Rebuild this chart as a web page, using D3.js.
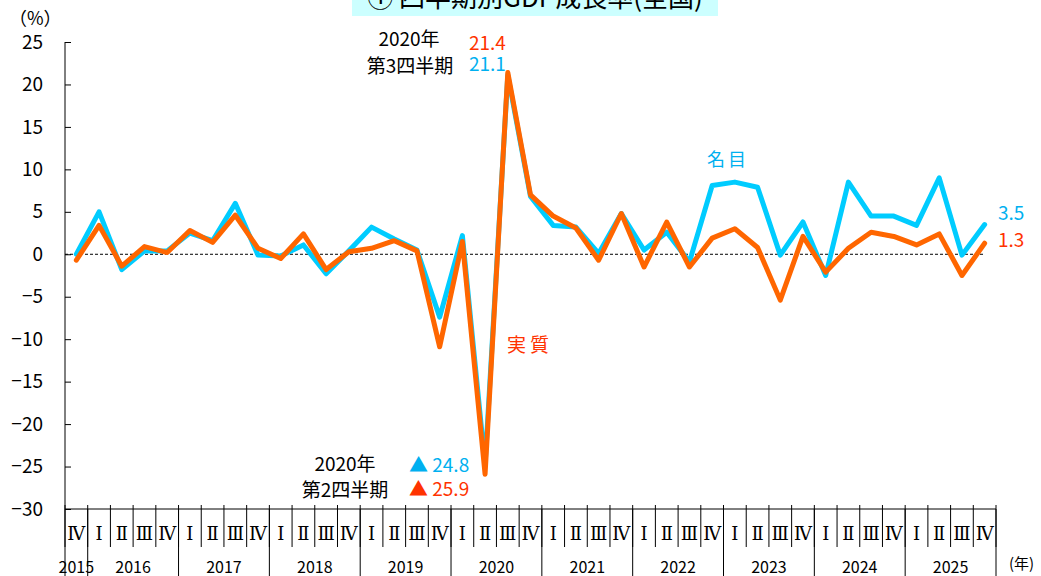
<!DOCTYPE html>
<html lang="ja">
<head>
<meta charset="utf-8">
<script src="https://cdn.jsdelivr.net/npm/d3@7"></script>
<style>
  body { margin: 0; background: #fff; }
  svg { display: block; font-family: 'Noto Sans CJK JP', 'Noto Sans', sans-serif; }
</style>
</head>
<body>
<svg id="chart" width="1041" height="576"></svg>
<script>
// 四半期ラベル（2015年IV期〜2025年IV期）
const quarterLabels = [
  'Ⅳ',
  'Ⅰ', 'Ⅱ', 'Ⅲ', 'Ⅳ', 'Ⅰ', 'Ⅱ', 'Ⅲ', 'Ⅳ', 'Ⅰ', 'Ⅱ', 'Ⅲ', 'Ⅳ',
  'Ⅰ', 'Ⅱ', 'Ⅲ', 'Ⅳ', 'Ⅰ', 'Ⅱ', 'Ⅲ', 'Ⅳ', 'Ⅰ', 'Ⅱ', 'Ⅲ', 'Ⅳ',
  'Ⅰ', 'Ⅱ', 'Ⅲ', 'Ⅳ', 'Ⅰ', 'Ⅱ', 'Ⅲ', 'Ⅳ', 'Ⅰ', 'Ⅱ', 'Ⅲ', 'Ⅳ',
  'Ⅰ', 'Ⅱ', 'Ⅲ', 'Ⅳ'
];
const yearLabels = ['2015', '2016', '2017', '2018', '2019', '2020', '2021', '2022', '2023', '2024', '2025'];

// 名目・実質GDP成長率（前期比年率, %）
const nominal = [
  0.0, 5.0, -1.8, 0.4, 0.4, 2.5, 1.6, 6.0, -0.1, -0.2,
  1.1, -2.3, 0.4, 3.2, 1.8, 0.5, -7.4, 2.2, -24.8, 21.1,
  6.8, 3.4, 3.2, 0.1, 4.8, 0.5, 2.6, -0.9, 8.1, 8.5,
  7.9, -0.1, 3.8, -2.5, 8.5, 4.5, 4.5, 3.4, 9.0, -0.1,
  3.5
];
const real = [
  -0.7, 3.4, -1.4, 0.9, 0.2, 2.8, 1.4, 4.6, 0.7, -0.5,
  2.4, -1.8, 0.3, 0.7, 1.6, 0.4, -10.9, 1.5, -25.9, 21.4,
  7.0, 4.5, 3.1, -0.7, 4.8, -1.5, 3.8, -1.5, 1.9, 3.0,
  0.8, -5.4, 2.1, -2.1, 0.7, 2.6, 2.1, 1.1, 2.4, -2.5,
  1.3
];
const yTicks = [25, 20, 15, 10, 5, 0, -5, -10, -15, -20, -25, -30];

const COLOR_NOMINAL = '#00CCFF';
const COLOR_REAL = '#FF6600';
const TEXT_NOMINAL = '#00B0F0';
const TEXT_REAL = '#FF3300';

const svg = d3.select('#chart');
const plot = { left: 65, right: 996, top: 42, bottom: 509 };

const x = d3.scaleBand()
  .domain(d3.range(quarterLabels.length))
  .range([plot.left, plot.right]);
const y = d3.scaleLinear().domain([-30, 25]).range([plot.bottom, plot.top]);
const cx = i => x(i) + x.bandwidth() / 2;

// タイトル（上端で切れている）
svg.append('rect')
  .attr('x', 352).attr('y', -10).attr('width', 366).attr('height', 26)
  .attr('fill', '#CCFFFF');
svg.append('text')
  .attr('x', 535).attr('y', 7)
  .attr('text-anchor', 'middle')
  .attr('font-size', 26)
  .text('① 四半期別GDP成長率(全国)');

// 縦軸
const yAxis = d3.axisLeft(y)
  .tickValues(yTicks)
  .tickSize(-6)
  .tickPadding(22)
  .tickFormat(d => String(d).replace('-', '−'));
svg.append('g')
  .attr('transform', `translate(${plot.left},0)`)
  .call(yAxis)
  .call(g => g.select('.domain').attr('d', `M0,${plot.top}V${plot.bottom}`).attr('stroke', '#000'))
  .call(g => g.selectAll('.tick line').attr('stroke', '#000'))
  .call(g => g.selectAll('.tick text')
    .attr('font-family', "'Noto Sans CJK JP', sans-serif")
    .attr('font-size', 19)
    .attr('fill', '#000'));

svg.append('text')
  .attr('x', 9).attr('y', 25)
  .attr('font-size', 18)
  .text('（%）');

// 0%の点線
svg.append('line')
  .attr('x1', plot.left).attr('x2', cx(quarterLabels.length - 1))
  .attr('y1', y(0)).attr('y2', y(0))
  .attr('stroke', '#000').attr('stroke-width', 1)
  .attr('stroke-dasharray', '3,2');

// 横軸（四半期・年）
const xAxis = svg.append('g');
xAxis.append('line')
  .attr('x1', plot.left).attr('x2', plot.right)
  .attr('y1', plot.bottom).attr('y2', plot.bottom)
  .attr('stroke', '#000');

const edges = d3.range(quarterLabels.length + 1).map(i =>
  i < quarterLabels.length ? x(i) : plot.right);
const yearStarts = [0, ...quarterLabels.map((q, i) => q === 'Ⅰ' ? i : -1).filter(i => i > 0), quarterLabels.length];

xAxis.selectAll('line.q')
  .data(edges)
  .join('line')
  .attr('class', 'q')
  .attr('x1', d => d).attr('x2', d => d)
  .attr('y1', plot.bottom - 4).attr('y2', 547)
  .attr('stroke', '#000');

xAxis.selectAll('line.yr')
  .data(yearStarts)
  .join('line')
  .attr('class', 'yr')
  .attr('x1', i => edges[i]).attr('x2', i => edges[i])
  .attr('y1', plot.bottom).attr('y2', 576)
  .attr('stroke', '#000');

xAxis.selectAll('text.q')
  .data(quarterLabels)
  .join('text')
  .attr('class', 'q')
  .attr('x', (d, i) => cx(i))
  .attr('y', 540)
  .attr('text-anchor', 'middle')
  .attr('font-family', "'DejaVu Serif', 'Liberation Serif', serif")
  .attr('font-size', 18)
  .text(d => d);

xAxis.selectAll('text.yr')
  .data(yearLabels)
  .join('text')
  .attr('class', 'yr')
  .attr('x', (d, k) => (edges[yearStarts[k]] + edges[yearStarts[k + 1]]) / 2)
  .attr('y', 573)
  .attr('text-anchor', 'middle')
  .attr('font-size', 16)
  .text(d => d);

svg.append('text')
  .attr('x', 1009).attr('y', 569)
  .attr('font-size', 15)
  .text('(年)');

// 折れ線
const line = d3.line()
  .x((d, i) => cx(i))
  .y(d => y(d));

[[nominal, COLOR_NOMINAL], [real, COLOR_REAL]].forEach(([values, color]) => {
  svg.append('path')
    .datum(values)
    .attr('d', line)
    .attr('fill', 'none')
    .attr('stroke', color)
    .attr('stroke-width', 5)
    .attr('stroke-linejoin', 'round')
    .attr('stroke-linecap', 'round');
});

// 注記
const label = (text, px, py, color = '#000', opts = {}) => svg.append('text')
  .attr('x', px).attr('y', py)
  .attr('fill', color)
  .attr('font-size', opts.size || 19)
  .attr('text-anchor', opts.anchor || 'start')
  .attr('letter-spacing', opts.spacing || 0)
  .text(text);

const last = quarterLabels.length - 1;
label('名目', 707, 166, TEXT_NOMINAL, { size: 18, spacing: 3 });
label('実質', 507, 352, TEXT_REAL, { size: 19, spacing: 4 });
label(String(nominal[last]), 998, 220, TEXT_NOMINAL);
label(String(real[last]), 998, 247, TEXT_REAL);

const peakIdx = real.indexOf(d3.max(real));
const troughIdx = real.indexOf(d3.min(real));

label('2020年', 409, 46, '#000', { anchor: 'middle', size: 19 });
label('第3四半期', 410, 73, '#000', { anchor: 'middle', size: 19 });
label(real[peakIdx].toFixed(1), 469, 50, TEXT_REAL);
label(nominal[peakIdx].toFixed(1), 469, 71, TEXT_NOMINAL);

label('2020年', 345, 471, '#000', { anchor: 'middle', size: 19 });
label('第2四半期', 345, 497, '#000', { anchor: 'middle', size: 19 });
label(`▲ ${Math.abs(nominal[troughIdx]).toFixed(1)}`, 409, 472, TEXT_NOMINAL);
label(`▲ ${Math.abs(real[troughIdx]).toFixed(1)}`, 409, 496, TEXT_REAL);
</script>
</body>
</html>
